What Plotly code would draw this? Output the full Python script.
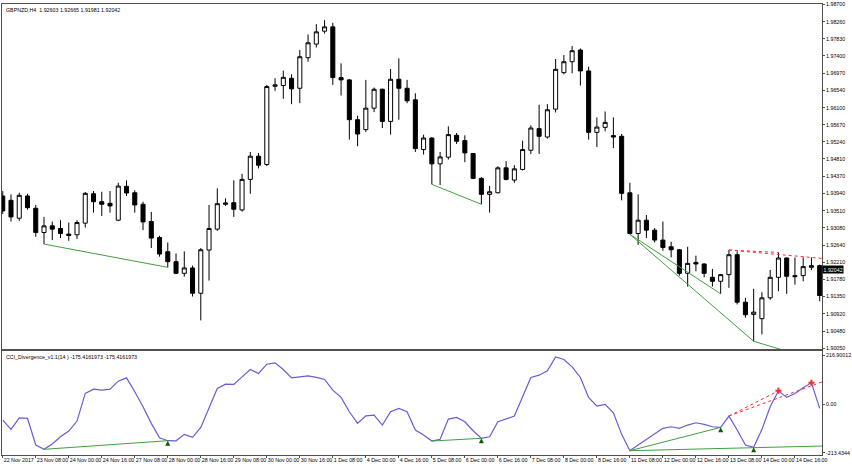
import plotly.graph_objects as go

# ---------------- data ----------------
bars = list(range(100))
open_ = [1.93879, 1.93771, 1.93321, 1.93879, 1.93571, 1.92961, 1.93128, 1.93061, 1.92921, 1.92903,
         1.93196, 1.93936, 1.93736, 1.93696, 1.93271, 1.94122, 1.93961, 1.93671, 1.93236, 1.92836,
         1.92478, 1.92228, 1.91935, 1.92070, 1.91434, 1.92520, 1.93046, 1.93671, 1.93711, 1.93529,
         1.94297, 1.94880, 1.94672, 1.96638, 1.96656, 1.96839, 1.96588, 1.97356, 1.97699, 1.98024,
         1.98132, 1.96856, 1.96799, 1.95798, 1.95548, 1.96088, 1.96563, 1.95755, 1.96814, 1.96588,
         1.96298, 1.95047, 1.95337, 1.94687, 1.94855, 1.95405, 1.95272, 1.94947, 1.94322, 1.93921,
         1.93961, 1.94587, 1.94279, 1.94547, 1.95030, 1.95573, 1.95362, 1.96063, 1.96981, 1.97256,
         1.97549, 1.97024, 1.95480, 1.95605, 1.95398, 1.95380, 1.93961, 1.92936, 1.93271, 1.93021,
         1.92771, 1.92603, 1.92528, 1.91935, 1.92210, 1.92170, 1.91835, 1.91735, 1.91902, 1.92403,
         1.91209, 1.90902, 1.90794, 1.91319, 1.91835, 1.92320, 1.91877, 1.91877, 1.92085, 1.92128]
high = [1.94004, 1.93921, 1.93961, 1.93936, 1.93654, 1.93353, 1.93236, 1.93271, 1.93211, 1.93271,
        1.93979, 1.94004, 1.93986, 1.94004, 1.94212, 1.94272, 1.94022, 1.93736, 1.93479, 1.92878,
        1.92710, 1.92435, 1.92485, 1.92128, 1.92570, 1.93654, 1.94071, 1.93821, 1.94272, 1.94437,
        1.94987, 1.94962, 1.96673, 1.96839, 1.97031, 1.96939, 1.97549, 1.97939, 1.98200, 1.98300,
        1.98232, 1.97214, 1.96819, 1.95898, 1.96799, 1.96606, 1.96581, 1.97074, 1.97339, 1.96799,
        1.96463, 1.95423, 1.95355, 1.94987, 1.95630, 1.95463, 1.95405, 1.94962, 1.94354, 1.94129,
        1.94629, 1.94755, 1.94654, 1.95272, 1.95655, 1.96173, 1.96188, 1.97324, 1.97424, 1.97649,
        1.97589, 1.97131, 1.95855, 1.96005, 1.95855, 1.95438, 1.94212, 1.93921, 1.93403, 1.93071,
        1.93236, 1.92728, 1.92545, 1.92603, 1.92378, 1.92185, 1.92045, 1.91920, 1.92520, 1.92485,
        1.91319, 1.91545, 1.91460, 1.92020, 1.92460, 1.92335, 1.92335, 1.92335, 1.92335, 1.92153]
low = [1.93428, 1.93236, 1.93253, 1.93536, 1.92853, 1.92670, 1.92771, 1.92821, 1.92753, 1.92796,
       1.93086, 1.93461, 1.93378, 1.93461, 1.93253, 1.93879, 1.93461, 1.93021, 1.92570, 1.92353,
       1.92085, 1.91915, 1.91852, 1.91352, 1.90751, 1.91752, 1.93003, 1.93629, 1.93353, 1.93486,
       1.93936, 1.94572, 1.94629, 1.96523, 1.96323, 1.96188, 1.96213, 1.97256, 1.97614, 1.97964,
       1.96673, 1.96406, 1.95297, 1.95130, 1.95488, 1.95988, 1.95588, 1.95423, 1.95798, 1.96213,
       1.94987, 1.94922, 1.94172, 1.94154, 1.94797, 1.95187, 1.94729, 1.94304, 1.93671, 1.93461,
       1.93946, 1.94272, 1.94212, 1.94522, 1.94937, 1.94937, 1.95322, 1.95980, 1.96939, 1.96964,
       1.96656, 1.95297, 1.95112, 1.95505, 1.95087, 1.93771, 1.92916, 1.92653, 1.92821, 1.92710,
       1.92503, 1.92335, 1.91877, 1.91602, 1.91985, 1.91835, 1.91602, 1.91419, 1.91570, 1.91152,
       1.90819, 1.90226, 1.90401, 1.91269, 1.91485, 1.91419, 1.91652, 1.91735, 1.92020, 1.91234]
close = [1.93504, 1.93353, 1.93896, 1.93586, 1.92961, 1.93128, 1.93046, 1.92936, 1.92886, 1.93211,
         1.93946, 1.93736, 1.93671, 1.93629, 1.94129, 1.93954, 1.93654, 1.93228, 1.92821, 1.92420,
         1.92228, 1.91935, 1.92070, 1.91434, 1.92528, 1.93061, 1.93686, 1.93704, 1.93546, 1.94297,
         1.94880, 1.94654, 1.96631, 1.96673, 1.96864, 1.96573, 1.97381, 1.97732, 1.98007, 1.98132,
         1.96856, 1.96799, 1.95798, 1.95438, 1.96088, 1.96563, 1.95755, 1.96814, 1.96588, 1.96273,
         1.95072, 1.95337, 1.94687, 1.94862, 1.95423, 1.95255, 1.94962, 1.94322, 1.93921, 1.93986,
         1.94587, 1.94297, 1.94562, 1.95047, 1.95588, 1.95380, 1.96048, 1.97064, 1.97256, 1.97532,
         1.97024, 1.95480, 1.95613, 1.95730, 1.95362, 1.93946, 1.92936, 1.93271, 1.93021, 1.92771,
         1.92585, 1.92528, 1.91935, 1.92185, 1.92170, 1.91935, 1.91735, 1.91902, 1.92403, 1.91209,
         1.90894, 1.90959, 1.91319, 1.91835, 1.92320, 1.91860, 1.91852, 1.92103, 1.92128, 1.91377]
cci = [-69.4, -110.4, -59.3, -61.9, -179.5, -198.5, -175.1, -143.0, -117.9, -73.8,
       48.2, 67.1, 62.7, 67.1, 102.4, 116.9, 55.3, -10.8, -83.9, -147.4,
       -160.6, -161.0, -132.4, -145.6, -101.6, -17.9, 70.2, 89.2, 87.8, 121.3,
       153.9, 136.3, 177.3, 183.0, 153.9, 116.9, 121.3, 125.7, 118.7, 109.9,
       62.7, 30.6, -32.8, -83.9, -50.5, -47.4, -91.4, -32.8, -17.9, -32.8,
       -113.4, -135.5, -161.9, -154.4, -65.0, -57.5, -76.9, -116.5, -150.0, -143.0,
       -76.9, -65.0, -51.8, 33.2, 118.7, 128.8, 147.7, 209.4, 198.0, 165.4,
       118.7, 30.6, -7.7, -0.2, -37.2, -132.4, -204.6, -179.5, -154.4, -131.1,
       -106.0, -98.9, -106.0, -91.4, -81.3, -88.3, -98.9, -101.6, -51.8, -113.4,
       -179.5, -189.6, -110.4, -10.8, 59.7, 30.6, 48.2, 72.9, 94.9, -17.9]

time_tick_bars = list(range(0, 100, 4))
time_tick_labels = ["22 Nov 2017", "23 Nov 08:00", "24 Nov 00:00", "24 Nov 16:00", "27 Nov 08:00",
                    "28 Nov 00:00", "28 Nov 16:00", "29 Nov 08:00", "30 Nov 00:00", "30 Nov 16:00",
                    "1 Dec 08:00", "4 Dec 00:00", "4 Dec 16:00", "5 Dec 08:00", "6 Dec 00:00",
                    "6 Dec 16:00", "7 Dec 08:00", "8 Dec 00:00", "8 Dec 16:00", "11 Dec 08:00",
                    "12 Dec 00:00", "12 Dec 16:00", "13 Dec 08:00", "14 Dec 00:00", "14 Dec 16:00"]
price_ticks = [1.98700, 1.98260, 1.97830, 1.97400, 1.96970, 1.96540, 1.96100, 1.95670, 1.95240,
               1.94810, 1.94370, 1.93940, 1.93510, 1.93080, 1.92640, 1.92210, 1.91780, 1.91350,
               1.90920, 1.90480, 1.90050]
cci_ticks = [216.90012, 0.0, -213.4344]
cci_tick_labels = ["216.90012", "0.00", "-213.4344"]

# divergence lines: (bar_start, value_start, bar_end, value_end)
price_bull_lines = [(5, 1.92670, 20, 1.92085), (52, 1.94172, 58, 1.93671),
                    (76, 1.92916, 87, 1.91419), (76, 1.92916, 91, 1.90226),
                    (91, 1.90226, 99.3, 1.89710)]
price_bear_lines = [(88, 1.92520, 94, 1.92460), (88, 1.92520, 99.3, 1.92310)]
cci_bull_lines = [(5, -198.5, 20, -160.6), (52, -161.9, 58, -150.0),
                  (76, -204.6, 87, -101.6), (76, -204.6, 99.3, -184.0)]
cci_bear_lines = [(88, -51.8, 94, 59.7), (88, -51.8, 99.3, 99.3)]
bull_marks_bars = [20, 58, 87, 91]
bear_marks_bars = [94, 98]

title_main = "GBPNZD,H4  1.92603 1.92665 1.91981 1.92042"
title_ind = "CCI_Divergence_v1.1(14 ) -175.4161973 -175.4161973"
last_price = 1.92042

FONT = "Liberation Sans"
FS = 5.3
GREEN = "#3f9f3f"
RED = "#ff2a2a"
BLUE = "#6a5ad8"


def seg_xy(lines):
    xs, ys = [], []
    for b0, v0, b1, v1 in lines:
        xs += [b0, b1, None]
        ys += [v0, v1, None]
    return xs, ys


fig = go.Figure()

fig.add_trace(go.Candlestick(
    x=bars, open=open_, high=high, low=low, close=close,
    increasing=dict(line=dict(color="black", width=1), fillcolor="white"),
    decreasing=dict(line=dict(color="black", width=1), fillcolor="black"),
    whiskerwidth=0, xaxis="x", yaxis="y", hoverinfo="skip"))

x, y = seg_xy(price_bull_lines)
fig.add_trace(go.Scatter(x=x, y=y, mode="lines", line=dict(color=GREEN, width=1),
                         xaxis="x", yaxis="y"))
x, y = seg_xy(price_bear_lines)
fig.add_trace(go.Scatter(x=x, y=y, mode="lines", line=dict(color=RED, width=1, dash="dot"),
                         xaxis="x", yaxis="y"))

fig.add_trace(go.Scatter(x=bars, y=cci, mode="lines", line=dict(color=BLUE, width=1.2),
                         xaxis="x2", yaxis="y2"))
x, y = seg_xy(cci_bull_lines)
fig.add_trace(go.Scatter(x=x, y=y, mode="lines", line=dict(color=GREEN, width=1),
                         xaxis="x2", yaxis="y2"))
x, y = seg_xy(cci_bear_lines)
fig.add_trace(go.Scatter(x=x, y=y, mode="lines", line=dict(color=RED, width=1, dash="dot"),
                         xaxis="x2", yaxis="y2"))
fig.add_trace(go.Scatter(x=bull_marks_bars, y=[cci[i] for i in bull_marks_bars], mode="markers",
                         marker=dict(symbol="arrow-up", size=5, color="#0a5a0a"),
                         xaxis="x2", yaxis="y2"))
fig.add_trace(go.Scatter(x=bear_marks_bars, y=[cci[i] for i in bear_marks_bars], mode="markers",
                         marker=dict(symbol="cross", size=5, color=RED),
                         xaxis="x2", yaxis="y2"))

xrange = [-0.09, 99.28]
axis_common = dict(showgrid=False, zeroline=False, showline=True, mirror=True,
                   linecolor="#505050", linewidth=1)

fig.update_layout(
    width=852, height=467,
    margin=dict(l=1, r=23, t=3, b=12),
    paper_bgcolor="white", plot_bgcolor="white",
    showlegend=False,
    font=dict(family=FONT, size=FS, color="black"),
    xaxis=dict(domain=[0, 1], range=xrange, anchor="y", showticklabels=False, ticks="",
               rangeslider=dict(visible=False), **axis_common),
    yaxis=dict(domain=[0.2345, 1], range=[1.90026, 1.98707], side="right", anchor="x",
               tickvals=price_ticks, ticktext=[f"{v:.5f}" for v in price_ticks],
               ticks="outside", ticklen=2, tickcolor="#505050", ticklabeloverflow="allow",
               tickfont=dict(family=FONT, size=FS), **axis_common),
    xaxis2=dict(domain=[0, 1], range=xrange, anchor="y2", matches="x",
                tickvals=time_tick_bars, ticktext=time_tick_labels,
                ticks="outside", ticklen=2, tickcolor="#505050", tickangle=0,
                ticklabelposition="outside right",
                tickfont=dict(family=FONT, size=FS), **axis_common),
    yaxis2=dict(domain=[0, 0.2301], range=[-223.6, 234.5], side="right", anchor="x2",
                tickvals=cci_ticks, ticktext=cci_tick_labels,
                ticks="outside", ticklen=2, tickcolor="#505050",
                tickfont=dict(family=FONT, size=FS), **axis_common),
)

fig.add_annotation(text=title_main, xref="paper", yref="paper", x=0.003, y=0.998,
                   xanchor="left", yanchor="top", showarrow=False,
                   font=dict(family=FONT, size=FS, color="black"))
fig.add_annotation(text=title_ind, xref="paper", yref="paper", x=0.003, y=0.229,
                   xanchor="left", yanchor="top", showarrow=False,
                   font=dict(family=FONT, size=FS, color="black"))
fig.add_annotation(text=f"{last_price:.5f}", xref="paper", yref="y", x=1.0, y=last_price,
                   xanchor="left", yanchor="middle", showarrow=False, bgcolor="black",
                   borderpad=0.5, font=dict(family=FONT, size=FS, color="white"))

fig.write_html("out.html", config={"displayModeBar": False},
               post_script="document.body.style.margin='0';")
